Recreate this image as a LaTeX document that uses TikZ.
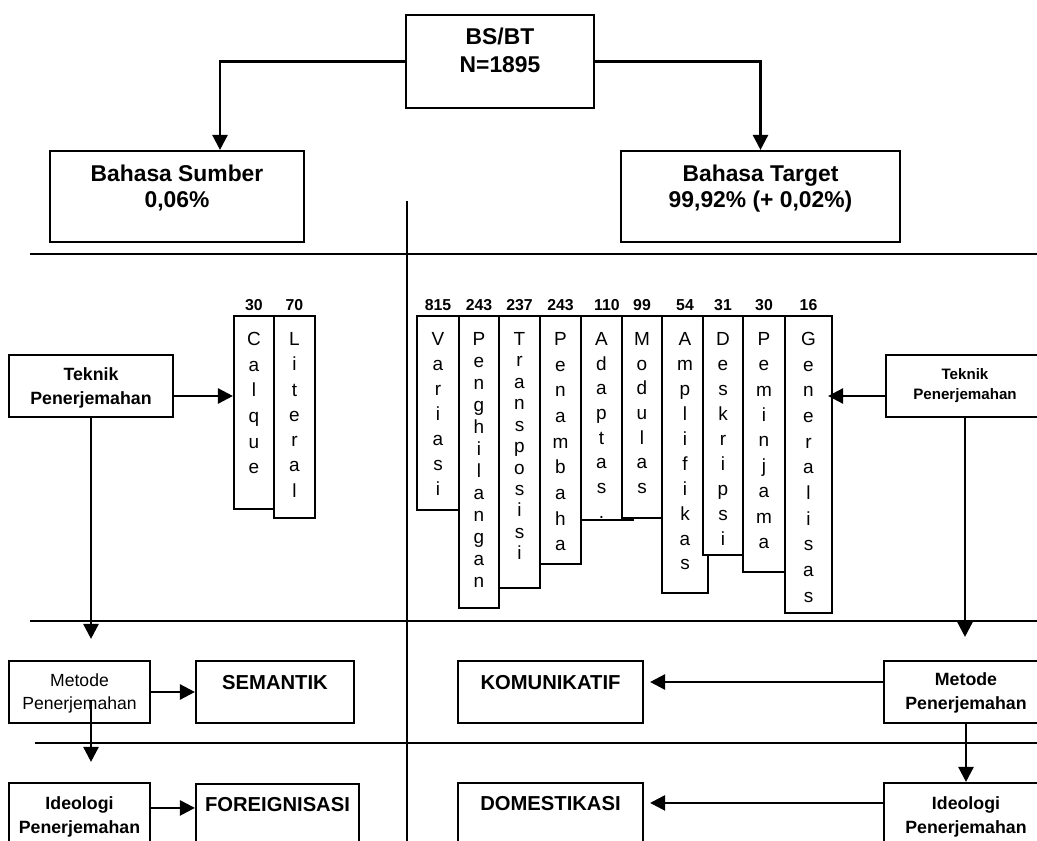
\documentclass[tikz,border=0pt]{standalone}
\usepackage{fontspec}
\setmainfont{Liberation Sans}
\usetikzlibrary{arrows.meta,calc}
\newcommand\ftop{\fontsize{13}{15.9}\selectfont\bfseries}
\newcommand\fbig{\fontsize{13}{14.8}\selectfont\bfseries}
\newcommand\fmid{\fontsize{11.5}{14}\selectfont\bfseries}
\newcommand\fsml{\fontsize{10.1}{13.7}\selectfont\bfseries}
\newcommand\freg{\fontsize{10}{13.1}\selectfont}
\newcommand\ftny{\fontsize{8.6}{11.4}\selectfont\bfseries}
\tikzset{>={Triangle[length=3mm,width=3mm]},
 box/.style 2 args={draw,line width=1.2pt,fill=white,inner sep=0pt,minimum width=#1*.2mm,minimum height=#2*.2mm},
 col/.style n args={3}{box={#1}{#2},anchor=north,label={[num]north:#3}},
 txt/.style={anchor=north,align=center,inner sep=0pt,yshift=-#1*.2mm},
 ltr/.style={anchor=north,align=center,inner sep=0pt,yshift=-3.5mm,font=\fontsize{10.8}{#1}\selectfont},
 num/.style={anchor=base,inner sep=0pt,yshift=.9mm,font=\fontsize{9}{10}\selectfont\bfseries},
 flow/.style={line width=1.4pt,->},divider/.style={line width=1.2pt}}

\begin{document}
\begin{tikzpicture}[x=.2mm,y=-.2mm]
\clip (0,0) rectangle (1037,841);
% section lines
\draw[divider] (30,254)--(1037,254);\draw[divider] (30,621)--(1037,621);\draw[divider] (35,743)--(1037,743);
\draw[line width=1.1pt] (407,201)--(407,841);
% BS/BT
\node[box={188}{93},label={[txt=14,font=\ftop]north:{BS/BT\\N=1895}}] (bsbt) at (500,61.5) {};
\node[box={254}{91},label={[txt=15,font=\fbig]north:{Bahasa Sumber\\0,06\%}}] (bsum) at (177,196.5) {};
\node[box={279}{91},label={[txt=15,font=\fbig]north:{Bahasa Target\\99,92\% (+ 0,02\%)}}] (btar) at (760.5,196.5) {};
\draw[flow] (bsbt.west)-|($(bsum.north)+(43,0)$);\draw[flow] (bsbt.east)-|(btar.north);
% teknik
\node[box={164}{62},label={[txt=13,font=\fsml]north:{Teknik\\Penerjemahan}}] (tekL) at (91,386) {};
\node[box={158}{62},label={[txt=14,font=\ftny]north:{Teknik\\Penerjemahan}}] (tekR) at (965,386) {};
\node[col={40}{193.5}{30},label={[ltr=14.6]north:{C\\a\\l\\q\\u\\e}}] (calque) at (254,314.5) {};
\node[col={41}{202.5}{70},label={[ltr=14.4]north:{L\\i\\t\\e\\r\\a\\l}}] (literal) at (294.5,314.5) {};
\node[col={42}{194.5}{815},label={[ltr=14.2]north:{V\\a\\r\\i\\a\\s\\i}}] (varias) at (438,314.5) {};
\node[col={40}{292.5}{243},label={[ltr=12.5]north:{P\\e\\n\\g\\h\\i\\l\\a\\n\\g\\a\\n}}] (hilang) at (479,314.5) {};
\node[col={41}{272.5}{237},label={[ltr=12.2]north:{T\\r\\a\\n\\s\\p\\o\\s\\i\\s\\i}}] (trans) at (519.5,314.5) {};
\node[col={41}{248.5}{243},label={[ltr=14.6]north:{P\\e\\n\\a\\m\\b\\a\\h\\a}}] (tambah) at (560.5,314.5) {};
\node[col={52}{204.5}{110},label={[ltr=14.05,xshift=-1.1mm]north:{A\\d\\a\\p\\t\\a\\s\\.}}] (adapt) at (607,314.5) {};
\node[col={40}{202.5}{99},label={[ltr=14.05]north:{M\\o\\d\\u\\l\\a\\s}}] (modul) at (642,314.5) {};
\node[col={46}{277.5}{54},label={[ltr=14.2]north:{A\\m\\p\\l\\i\\f\\i\\k\\a\\s}}] (ampli) at (685,314.5) {};
\node[col={40}{239.5}{31},label={[ltr=14.2]north:{D\\e\\s\\k\\r\\i\\p\\s\\i}}] (deskr) at (723,314.5) {};
\node[col={42}{256.5}{30},label={[ltr=14.45]north:{P\\e\\m\\i\\n\\j\\a\\m\\a}}] (pinjam) at (764,314.5) {};
\node[col={47}{297.5}{16},label={[ltr=14.6]north:{G\\e\\n\\e\\r\\a\\l\\i\\s\\a\\s}}] (gen) at (808.5,314.5) {};
\draw[flow] ($(tekL.east)+(0,10)$) coordinate(a)--(a-|calque.west);
\draw[flow] ($(tekR.west)+(0,10)$) coordinate(b)--($(b-|gen.east)+(-5,0)$);
% metode
\node[box={141}{62},label={[txt=13,font=\freg]north:{Metode\\Penerjemahan}}] (metodeL) at (79.5,692) {};
\node[box={158}{62},label={[txt=15,font=\fmid]north:SEMANTIK}] (semantik) at (275,692) {};
\node[box={185}{62},label={[txt=15,font=\fmid]north:KOMUNIKATIF}] (komunikatif) at (550.5,692) {};
\node[box={164}{62},label={[txt=12,font=\fsml]north:{Metode\\Penerjemahan}}] (metodeR) at (966,692) {};
\draw[flow,shorten >=4.2mm] (tekL.south)--(tekL.south|-metodeL.north);
\draw[flow,shorten >=4.6mm] (tekR.south)--(tekR.south|-metodeR.north);
\draw[flow] (metodeL.east)--(semantik.west);
\draw[flow] ($(metodeR.west)+(0,-10)$) coordinate(c)--($(c-|komunikatif.east)+(6,0)$);
% ideologi
\node[box={141}{70},label={[txt=14,font=\fsml]north:{Ideologi\\Penerjemahan}}] (ideoL) at (79.5,818) {};
\node[box={163}{70},label={[txt=14,font=\fmid]north:FOREIGNISASI}] (foreign) at (277.5,819) {};
\node[box={185}{70},label={[txt=14,font=\fmid]north:DOMESTIKASI}] (domest) at (550.5,818) {};
\node[box={164}{70},label={[txt=14,font=\fsml]north:{Ideologi\\Penerjemahan}}] (ideoR) at (966,818) {};
\draw[flow,shorten >=4mm] ($(tekL.south|-metodeL.center)+(0,8)$)--(tekL.south|-ideoL.north);
\draw[flow] (metodeR.south)--(ideoR.north);
\draw[flow] ($(ideoL.north east)+(0,26)$) coordinate(d)--(d-|foreign.west);
\draw[flow] ($(ideoR.north west)+(0,21)$) coordinate(e)--($(e-|domest.east)+(6,0)$);
\end{tikzpicture}
\end{document}
